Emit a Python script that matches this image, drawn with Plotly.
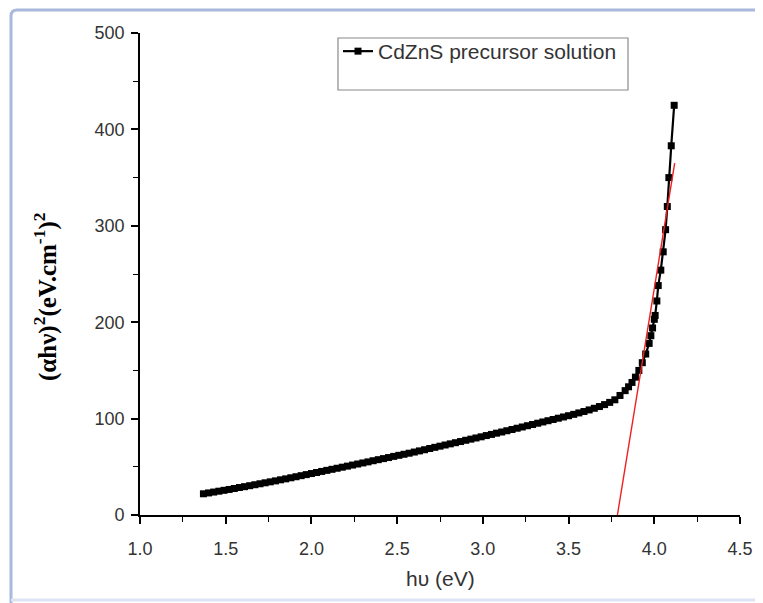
import plotly.graph_objects as go

# Photon energy (eV) and (alpha*h*nu)^2
hv = [1.37, 1.40, 1.43, 1.46, 1.49, 1.52, 1.55, 1.58, 1.61, 1.64, 1.67, 1.70, 1.73, 1.76, 1.79,
      1.82, 1.85, 1.88, 1.91, 1.94, 1.97, 2.00, 2.03, 2.06, 2.09, 2.12, 2.15, 2.18, 2.21, 2.24,
      2.27, 2.30, 2.33, 2.36, 2.39, 2.42, 2.45, 2.48, 2.51, 2.54, 2.57, 2.60, 2.63, 2.66, 2.69,
      2.72, 2.75, 2.78, 2.81, 2.84, 2.87, 2.90, 2.93, 2.96, 2.99, 3.02, 3.05, 3.08, 3.11, 3.14,
      3.17, 3.20, 3.23, 3.26, 3.29, 3.32, 3.35, 3.38, 3.41, 3.44, 3.47, 3.50, 3.53, 3.56, 3.59,
      3.62, 3.65, 3.68, 3.71, 3.74, 3.77, 3.80, 3.83, 3.85, 3.87, 3.89, 3.91, 3.93, 3.95, 3.97,
      3.98, 3.99, 4.00, 4.005, 4.015, 4.023, 4.038, 4.052, 4.066, 4.076, 4.085, 4.099, 4.116]
ahv2 = [22.0, 22.9, 23.8, 24.7, 25.6, 26.5, 27.5, 28.5, 29.4, 30.4, 31.4, 32.4, 33.4, 34.4, 35.4,
        36.5, 37.5, 38.6, 39.7, 40.8, 41.9, 43.0, 44.1, 45.2, 46.3, 47.4, 48.5, 49.6, 50.7, 51.8,
        52.9, 54.0, 55.1, 56.3, 57.4, 58.5, 59.6, 60.8, 61.9, 63.0, 64.1, 65.3, 66.5, 67.7, 69.0,
        70.2, 71.4, 72.6, 73.8, 75.0, 76.2, 77.5, 78.7, 79.9, 81.1, 82.4, 83.6, 84.9, 86.1, 87.4,
        88.7, 90.0, 91.3, 92.6, 93.9, 95.2, 96.5, 97.8, 99.1, 100.4, 101.7, 103.0, 104.4, 105.9, 107.4,
        109.0, 110.7, 112.5, 114.5, 116.8, 119.5, 124.0, 129.0, 133.0, 137.5, 143.0, 150.0, 158.0, 167.0, 178.0,
        186.0, 194.0, 203.0, 207.0, 222.0, 238.0, 254.0, 273.0, 296.0, 320.0, 350.0, 383.0, 425.0]

# Tauc fit line (extrapolation to the band gap)
fit_x = [3.785, 4.119]
fit_y = [0, 365]

series_name = "CdZnS precursor solution"
x_ticks = [1.0, 1.5, 2.0, 2.5, 3.0, 3.5, 4.0, 4.5]
x_tick_labels = ["1.0", "1.5", "2.0", "2.5", "3.0", "3.5", "4.0", "4.5"]
y_ticks = [0, 100, 200, 300, 400, 500]
y_tick_labels = ["0", "100", "200", "300", "400", "500"]

fig = go.Figure()
fig.add_trace(go.Scatter(
    x=hv, y=ahv2, mode="lines+markers", name=series_name,
    line=dict(color="black", width=2.2),
    marker=dict(symbol="square", size=7, color="black"),
))
fig.add_trace(go.Scatter(
    x=fit_x, y=fit_y, mode="lines", showlegend=False,
    line=dict(color="#f02020", width=1.4),
))

OFF = 8  # page body margin
W, H = 763 - OFF, 603 - OFF
# plot area in screenshot pixels, converted to figure pixels
L, R, T, B = 140 - OFF, 740 - OFF, 33 - OFF, 515 - OFF

def px(xs):
    return (xs - OFF - L) / (R - L)

def py(ys):
    return (B - (ys - OFF)) / (B - T)

txtcol = "#333333"
tickfont = dict(family="Liberation Sans, Arial, sans-serif", size=18, color=txtcol)
axis_common = dict(
    showline=True, linecolor="black", linewidth=1.6, mirror=False,
    ticks="outside", ticklen=7, tickwidth=1.6, tickcolor="black",
    showgrid=False, zeroline=False, tickfont=tickfont, automargin=False,
)

fig.update_layout(
    width=W, height=H,
    margin=dict(l=L, r=W - R, t=T, b=H - B, autoexpand=False),
    paper_bgcolor="white", plot_bgcolor="white",
    xaxis=dict(range=[1.0, 4.5], tickmode="array", tickvals=x_ticks, ticktext=x_tick_labels,
               ticklabelstandoff=10,
               minor=dict(dtick=0.25, ticks="outside", ticklen=5, tickwidth=1.3, tickcolor="black"),
               **axis_common),
    yaxis=dict(range=[0, 500], tickmode="array", tickvals=y_ticks, ticktext=y_tick_labels,
               ticklabelstandoff=3,
               minor=dict(dtick=50, ticks="outside", ticklen=5, tickwidth=1.3, tickcolor="black"),
               **axis_common),
    showlegend=True,
    legend=dict(x=px(338), y=py(31), xanchor="left", yanchor="top",
                bgcolor="rgba(0,0,0,0)", borderwidth=0,
                font=dict(family="Liberation Sans, Arial, sans-serif", size=21, color=txtcol),
                itemwidth=30),
    shapes=[
        # legend box
        dict(type="rect", xref="paper", yref="paper",
             x0=px(338), x1=px(628), y0=py(90), y1=py(38),
             line=dict(color="#8a8a8a", width=1.2), fillcolor="rgba(0,0,0,0)"),
        # outer picture frame
        dict(type="path", xref="paper", yref="paper",
             path=f"M {px(11)},{py(640)} L {px(11)},{py(16)} Q {px(11)},{py(10)} {px(17)},{py(10)} L {px(800)},{py(10)}",
             line=dict(color="#a9b8dc", width=3)),
        dict(type="line", xref="paper", yref="paper",
             x0=px(11), x1=px(800), y0=py(600), y1=py(600),
             line=dict(color="#dde4f2", width=3)),
    ],
    annotations=[
        dict(text="<b>(αhν)<sup>2</sup>(eV.cm<sup>-1</sup>)<sup>2</sup></b>", xref="paper", yref="paper",
             x=px(45), y=py(297), xanchor="center", yanchor="middle", textangle=-90, showarrow=False,
             font=dict(family="Liberation Serif, Times New Roman, serif", size=25, color="black")),
        dict(text="hυ (eV)", xref="paper", yref="paper",
             x=px(440), y=py(578), xanchor="center", yanchor="middle", showarrow=False,
             font=dict(family="Liberation Sans, Arial, sans-serif", size=21, color=txtcol)),
    ],
)

fig.write_html("out.html")
